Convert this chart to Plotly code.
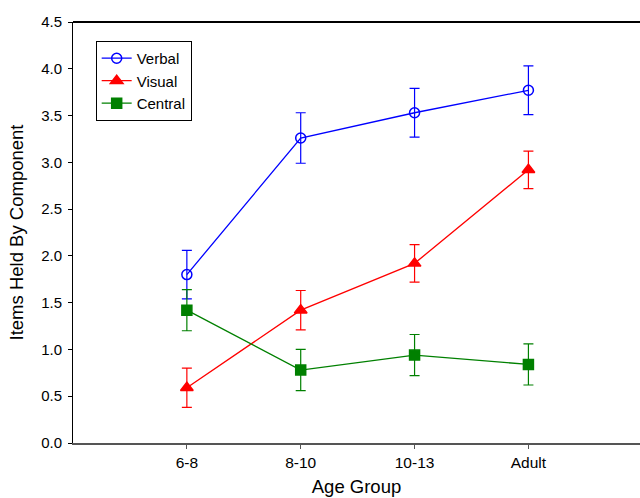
import plotly.graph_objects as go

categories = ["6-8", "8-10", "10-13", "Adult"]
verbal = [1.80, 3.26, 3.53, 3.77]
verbal_err = [0.26, 0.27, 0.26, 0.26]
visual = [0.59, 1.42, 1.92, 2.92]
visual_err = [0.21, 0.21, 0.20, 0.20]
central = [1.42, 0.78, 0.94, 0.84]
central_err = [0.22, 0.22, 0.22, 0.22]
yticks = [0.0, 0.5, 1.0, 1.5, 2.0, 2.5, 3.0, 3.5, 4.0, 4.5]

xi = list(range(len(categories)))

fig = go.Figure()
series = [
    ("Verbal", verbal, verbal_err, "#0000FF", "circle-open", 10),
    ("Visual", visual, visual_err, "#FF0000", "triangle-up", 11),
    ("Central", central, central_err, "#008000", "square", 10),
]
for name, vals, errs, col, sym, sz in series:
    fig.add_trace(go.Scatter(
        x=xi, y=vals, name=name, mode="lines+markers",
        line=dict(color=col, width=1.3),
        marker=dict(symbol=sym, size=sz, color=col, line=dict(color=col, width=1.5)),
        error_y=dict(type="data", array=errs, visible=True, color=col, thickness=1.2, width=5),
    ))

fig.update_layout(
    width=640, height=498,
    margin=dict(l=73, r=0, t=22, b=55, autoexpand=False),
    paper_bgcolor="white", plot_bgcolor="white",
    font=dict(family="Liberation Sans, Arial, sans-serif", size=14, color="black"),
    legend=dict(x=0.04, y=0.955, xanchor="left", yanchor="top",
                bordercolor="black", borderwidth=1, bgcolor="white",
                font=dict(size=15), tracegroupgap=0, itemwidth=30),
    showlegend=True,
    shapes=[dict(type="line", xref="paper", yref="paper", x0=0, x1=1, y0=1, y1=1,
                 line=dict(color="black", width=2))],
)
fig.update_xaxes(
    range=[-1, 3.98], tickvals=xi, ticktext=categories,
    showline=True, linecolor="#555555", linewidth=2, mirror=False,
    ticks="outside", ticklen=4, tickcolor="#555555",
    showgrid=False, zeroline=False, automargin=False,
    title=dict(text="Age Group", font=dict(size=18.5), standoff=10),
    tickfont=dict(size=15.5),
)
fig.update_yaxes(
    range=[0, 4.5], tickvals=yticks, ticktext=[f"{v:.1f}" for v in yticks],
    showline=True, linecolor="black", linewidth=1,
    ticks="outside", ticklen=4, tickcolor="black",
    showgrid=False, zeroline=False, automargin=False,
    ticklabelstandoff=3,
    title=dict(text="Items Held By Component", font=dict(size=18.5), standoff=12),
    tickfont=dict(size=15),
)
fig.write_html("out.html", post_script="document.body.style.margin='0';",
               config={"displayModeBar": False})
